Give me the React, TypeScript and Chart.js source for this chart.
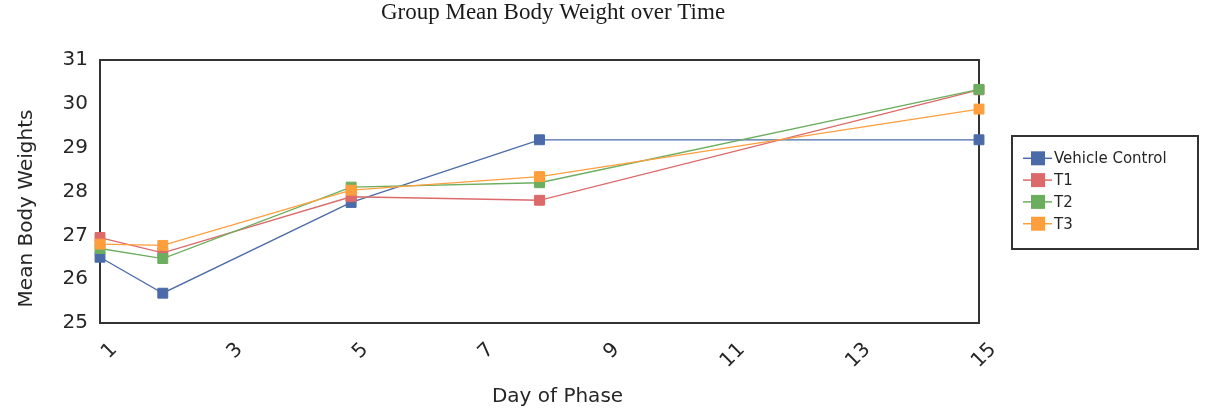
import React, { useEffect, useRef } from "react";
import { Chart, registerables } from "chart.js";

Chart.register(...registerables);

const TITLE = "Group Mean Body Weight over Time";
const X_TITLE = "Day of Phase";
const Y_TITLE = "Mean Body Weights";

const days = [1, 2, 5, 8, 15];
const seriesNames = ["Vehicle Control", "T1", "T2", "T3"];
const vehicleControl = [26.5, 25.68, 27.75, 29.18, 29.18];
const t1 = [26.95, 26.6, 27.88, 27.8, 30.32];
const t2 = [26.7, 26.47, 28.1, 28.2, 30.33];
const t3 = [26.8, 26.77, 28.03, 28.34, 29.88];
const seriesColors = ["#4A6BA8", "#DC6A6A", "#6CAE5F", "#FF9E3D"];

const yMin = 25;
const yMax = 31;
const xMin = 1;
const xMax = 15;

const SANS = "'DejaVu Sans', sans-serif";
const TEXT = "#262626";

const overlayPlugin = {
  id: "overlay",
  beforeDatasetsDraw(chart: any) {
    const { ctx, chartArea: a } = chart;
    ctx.save();
    ctx.strokeStyle = "#333";
    ctx.lineWidth = 2;
    ctx.strokeRect(a.left, a.top, a.right - a.left, a.bottom - a.top);
    ctx.restore();
  },
  afterDraw(chart: any) {
    const { ctx } = chart;
    ctx.save();
    // main title
    ctx.fillStyle = "#1a1a1a";
    ctx.font = "23px 'Liberation Serif', serif";
    ctx.textAlign = "center";
    ctx.textBaseline = "alphabetic";
    ctx.fillText(TITLE, 553, 18.5);
    // x title
    ctx.fillStyle = TEXT;
    ctx.font = `20px ${SANS}`;
    ctx.fillText(X_TITLE, 557.5, 401.5);
    // y title
    ctx.save();
    ctx.translate(32, 208.5);
    ctx.rotate(-Math.PI / 2);
    ctx.fillText(Y_TITLE, 0, 0);
    ctx.restore();
    // legend
    const bx = 1012, by = 136, bw = 186, bh = 113;
    ctx.strokeStyle = "#333";
    ctx.lineWidth = 2;
    ctx.strokeRect(bx, by, bw, bh);
    const ds = chart.data.datasets;
    ctx.textAlign = "left";
    ctx.textBaseline = "middle";
    ctx.font = `15px ${SANS}`;
    for (let i = 0; i < ds.length; i++) {
      const y = 158.3 + i * 21.8;
      const c = ds[i].borderColor;
      ctx.strokeStyle = c;
      ctx.lineWidth = 1.5;
      ctx.beginPath();
      ctx.moveTo(1023, y);
      ctx.lineTo(1052, y);
      ctx.stroke();
      ctx.fillStyle = c;
      ctx.fillRect(1031, y - 7, 14, 14);
      ctx.fillStyle = TEXT;
      ctx.fillText(ds[i].label, 1054, y + 1);
    }
    ctx.restore();
  },
};

export default function App() {
  const ref = useRef<HTMLCanvasElement | null>(null);

  useEffect(() => {
    document.body.style.margin = "0";
    document.body.style.background = "#ffffff";
    const values = [vehicleControl, t1, t2, t3];
    const chart = new Chart(ref.current as HTMLCanvasElement, {
      type: "line",
      data: {
        datasets: values.map((arr, i) => ({
          label: seriesNames[i],
          data: days.map((d, j) => ({ x: d, y: arr[j] })),
          borderColor: seriesColors[i],
          backgroundColor: seriesColors[i],
          pointBackgroundColor: seriesColors[i],
          pointBorderColor: seriesColors[i],
          borderWidth: 1.3,
          pointStyle: "rect",
          pointRadius: 7,
          pointBorderWidth: 1,
          tension: 0,
          clip: false as any,
          order: values.length - i,
        })),
      },
      options: {
        animation: false,
        responsive: false,
        devicePixelRatio: 1,
        events: [],
        layout: { padding: { top: 60, right: 229, bottom: 0, left: 0 } },
        plugins: {
          legend: { display: false },
          title: { display: false },
          tooltip: { enabled: false },
        },
        scales: {
          x: {
            type: "linear",
            min: xMin,
            max: xMax,
            grid: { display: false, drawTicks: false },
            border: { display: false },
            ticks: {
              stepSize: 2,
              autoSkip: false,
              minRotation: 45,
              maxRotation: 45,
              padding: 15,
              labelOffset: 14,
              color: TEXT,
              font: { family: SANS, size: 20 },
            },
            afterFit: (scale: any) => {
              scale.height = 85;
            },
          },
          y: {
            type: "linear",
            min: yMin,
            max: yMax,
            grid: { display: false, drawTicks: false },
            border: { display: false },
            ticks: {
              stepSize: 1,
              padding: 12,
              color: TEXT,
              font: { family: SANS, size: 20 },
            },
            afterFit: (scale: any) => {
              scale.width = 100;
            },
          },
        },
      },
      plugins: [overlayPlugin],
    });
    return () => chart.destroy();
  }, []);

  return (
    <div style={{ width: 1208, height: 408 }}>
      <canvas ref={ref} width={1208} height={408} style={{ display: "block" }} />
    </div>
  );
}
